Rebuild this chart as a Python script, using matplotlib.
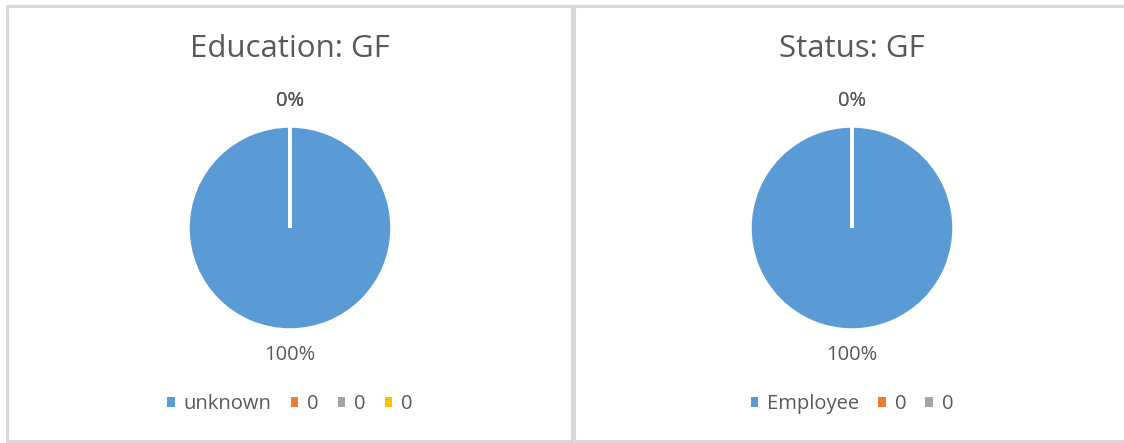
import matplotlib
matplotlib.use("Agg")
import matplotlib.pyplot as plt
from matplotlib.patches import Rectangle

plt.rcParams['font.family'] = ['Open Sans', 'DejaVu Sans']

# chart data
edu_title = "Education: GF"
edu_labels = ["unknown", "0", "0", "0"]
edu_values = [1, 0, 0, 0]

status_title = "Status: GF"
status_labels = ["Employee", "0", "0"]
status_values = [1, 0, 0]

colors = ["#5B9BD5", "#ED7D31", "#A5A5A5", "#FFC000"]
text_color = "#595959"
border = "#D9D9D9"

W, H = 1124, 443
fig = plt.figure(figsize=(W / 100, H / 100), dpi=100)
fig.patch.set_facecolor("white")

# panel borders (pixel boxes)
for x0, x1 in [(7, 572), (574, 1130)]:
    fig.patches.append(Rectangle((x0 / W, 1 - 441 / H), (x1 - x0) / W, (441 - 6) / H,
                                 transform=fig.transFigure, fill=False,
                                 edgecolor=border, linewidth=2.2))


def draw_pie(cx, title, labels, values):
    r = 102
    cy = 228
    ax = fig.add_axes([(cx - r) / W, 1 - (cy + r) / H, 2 * r / W, 2 * r / H])
    ax.pie(values, colors=colors[:len(values)], startangle=90, counterclock=False,
           autopct="%1.0f%%", pctdistance=1.25,
           wedgeprops=dict(edgecolor="white", linewidth=2.5),
           textprops=dict(color=text_color, fontsize=14.5))
    ax.set_xlim(-1, 1)
    ax.set_ylim(-1, 1)
    ax.set_aspect("equal")
    ax.axis("off")
    fig.text(cx / W, 1 - 49 / H, title, ha="center", va="center",
             fontsize=22.5, color=text_color)
    leg = ax.legend(labels, loc="center", bbox_to_anchor=(0.5, 0.5 - (404 - cy) / (2 * r)),
                    ncol=len(labels), frameon=False, fontsize=14.5,
                    handlelength=0.36, handleheight=0.36, handletextpad=0.45,
                    columnspacing=0.95)
    for h in leg.legend_handles:
        h.set_edgecolor("none")
        h.set_linewidth(0)
    for t in leg.get_texts():
        t.set_color(text_color)


draw_pie(290, edu_title, edu_labels, edu_values)
draw_pie(852, status_title, status_labels, status_values)

fig.savefig("out.png", dpi=100)
